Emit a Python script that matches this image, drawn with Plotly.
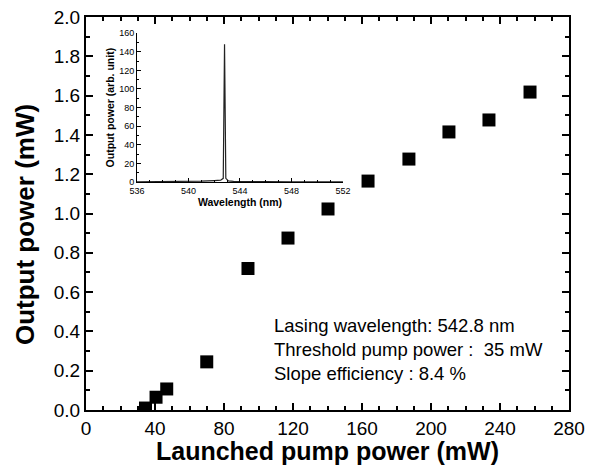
import plotly.graph_objects as go

# Main data: launched pump power (mW) vs output power (mW)
pump_mw = [34.5, 40.6, 46.8, 70.0, 93.9, 117.1, 140.3, 163.5, 187.2, 210.4, 233.6, 257.4]
output_mw = [0.01, 0.065, 0.107, 0.245, 0.72, 0.875, 1.023, 1.165, 1.277, 1.415, 1.476, 1.618]

# Inset spectrum
wavelength_nm = [536, 538, 540, 541, 542, 542.5, 542.7, 542.8, 542.9, 543.1, 543.5, 544, 546, 548, 550, 552]
intensity_au = [0.3, 0.4, 0.7, 1.0, 1.6, 2.0, 4.0, 148, 4.0, 1.2, 0.8, 0.6, 0.4, 0.3, 0.3, 0.3]

notes = ["Lasing wavelength: 542.8 nm", "Threshold pump power :  35 mW", "Slope efficiency : 8.4 %"]

FONT = "Liberation Sans, Arial, sans-serif"

fig = go.Figure()
fig.add_trace(go.Scatter(x=pump_mw, y=output_mw, mode="markers",
                         marker=dict(symbol="square", size=13, color="black"),
                         xaxis="x", yaxis="y", showlegend=False))
fig.add_trace(go.Scatter(x=wavelength_nm, y=intensity_au, mode="lines",
                         line=dict(color="#222222", width=1.2),
                         xaxis="x2", yaxis="y2", showlegend=False))

axis_common = dict(showline=True, linecolor="black", linewidth=2, mirror="allticks",
                   ticks="inside", ticklen=7, tickwidth=2, tickcolor="black",
                   showgrid=False, zeroline=False, automargin=False,
                   tickfont=dict(family=FONT, size=19, color="black"))

fig.update_layout(
    width=598, height=465,
    margin=dict(l=86, r=29, t=17, b=55),
    paper_bgcolor="white", plot_bgcolor="white",
    xaxis=dict(range=[0, 280], dtick=40, tick0=0,
               minor=dict(ticks="inside", ticklen=4, tickwidth=1.5, dtick=10, tickcolor="black"),
               title=dict(text="<b>Launched pump power (mW)</b>", standoff=6,
                          font=dict(family=FONT, size=25, color="black")),
               **axis_common),
    yaxis=dict(range=[0, 2.0], dtick=0.2, tick0=0, tickformat=".1f",
               minor=dict(ticks="inside", ticklen=4, tickwidth=1.5, dtick=0.1, tickcolor="black"),
               **axis_common),
    xaxis2=dict(domain=[0.1056, 0.532], anchor="y2", range=[536, 552], dtick=4, tick0=536,
                showline=True, linecolor="black", linewidth=1, mirror=False,
                ticks="inside", ticklen=4, tickwidth=1, tickcolor="black",
                minor=dict(ticks="inside", ticklen=2, dtick=1, tickcolor="black"),
                showgrid=False, zeroline=False,
                tickfont=dict(family=FONT, size=9, color="black"),
                title=dict(text="<b>Wavelength (nm)</b>", standoff=0,
                           font=dict(family=FONT, size=10.5, color="black"))),
    yaxis2=dict(domain=[0.580, 0.959], anchor="x2", range=[0, 160], dtick=20, tick0=0,
                showline=True, linecolor="black", linewidth=1, mirror=False,
                ticks="inside", ticklen=4, tickwidth=1, tickcolor="black",
                minor=dict(ticks="inside", ticklen=2, dtick=10, tickcolor="black"),
                showgrid=False, zeroline=False,
                tickfont=dict(family=FONT, size=9, color="black"),
                title=dict(text="<b>Output power (arb. unit)</b>", standoff=2,
                           font=dict(family=FONT, size=10.5, color="black"))),
)

# Main y-axis title placed as rotated text to match the reference position
fig.add_annotation(text="<b>Output power (mW)</b>", xref="paper", yref="paper",
                   x=-0.126, y=0.471, xanchor="center", yanchor="middle", textangle=-90,
                   showarrow=False, font=dict(family=FONT, size=26, color="black"))

for i, t in enumerate(notes):
    fig.add_annotation(text=t, xref="paper", yref="paper", x=0.386, y=0.216 - i * 0.061,
                       xanchor="left", yanchor="middle", showarrow=False,
                       font=dict(family=FONT, size=18.5, color="black"))

fig.write_html("out.html")
